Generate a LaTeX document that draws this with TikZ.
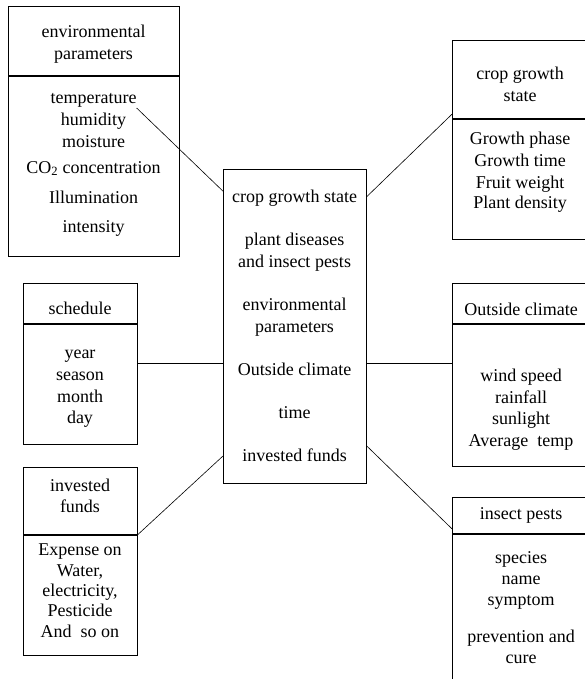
\documentclass[tikz,border=0pt]{standalone}
\usepackage{fontspec}
\setmainfont{Liberation Serif}
\begin{document}
\begin{tikzpicture}[x=1pt,y=-1pt,
  box/.style={draw=black, line width=0.7pt, rectangle, inner sep=0pt, anchor=north west},
  lbl/.style={font=\fontsize{18}{21}\selectfont, inner sep=0pt, anchor=base},
  link/.style={draw=black, line width=0.6pt}]
\useasboundingbox (0,0) rectangle (585,679);

% environmental parameters
\node[box, minimum width=171pt, minimum height=69pt] (envH) at (8,6) {};
\node[box, minimum width=171pt, minimum height=180pt] (envB) at (envH.south west) {};
\node[lbl] (env1) at (93.5,38) {environmental};
\node[lbl] (env2) at (93.5,60) {parameters};
\node[lbl] (envT) at (93.5,104) {temperature};
\node[lbl] (env4) at (93.5,126) {humidity};
\node[lbl] (env5) at (93.5,148) {moisture};
\node[lbl] (env6) at (93.5,173) {CO\textsubscript{2} concentration};
\node[lbl] (env7) at (93.5,203) {Illumination};
\node[lbl] (env8) at (93.5,232) {intensity};

% schedule
\node[box, minimum width=114pt, minimum height=40pt] (schH) at (23,283) {};
\node[box, minimum width=114pt, minimum height=120pt] (schB) at (schH.south west) {};
\node[lbl] (sch1) at (80,314) {schedule};
\node[lbl] (sch2) at (80,358) {year};
\node[lbl] (sch3) at (80,380) {season};
\node[lbl] (sch4) at (80,402) {month};
\node[lbl] (sch5) at (80,423) {day};

% invested funds
\node[box, minimum width=114pt, minimum height=67pt] (fundH) at (23,467) {};
\node[box, minimum width=114pt, minimum height=120pt] (fundB) at (fundH.south west) {};
\node[lbl] (fund1) at (80,491) {invested};
\node[lbl] (fund2) at (80,512) {funds};
\node[lbl] (fund3) at (80,555) {Expense on};
\node[lbl] (fund4) at (80,576) {Water,};
\node[lbl] (fund5) at (80,596) {electricity,};
\node[lbl] (fund6) at (80,616) {Pesticide};
\node[lbl] (fund7) at (80,637) {And\hspace{0.5em}so on};

% centre
\node[box, minimum width=143pt, minimum height=314pt] (center) at (223,169) {};
\node[lbl] (c1) at (294.5,202) {crop growth state};
\node[lbl] (c2) at (294.5,245) {plant diseases};
\node[lbl] (c3) at (294.5,267) {and insect pests};
\node[lbl] (c4) at (294.5,310) {environmental};
\node[lbl] (c5) at (294.5,332) {parameters};
\node[lbl] (c6) at (294.5,375) {Outside climate};
\node[lbl] (c7) at (294.5,418) {time};
\node[lbl] (c8) at (294.5,461) {invested funds};

% crop growth state
\node[box, minimum width=136pt, minimum height=78pt] (cropH) at (452,40) {};
\node[box, minimum width=136pt, minimum height=120pt] (cropB) at (cropH.south west) {};
\node[lbl] (crop1) at (520,80) {crop growth};
\node[lbl] (crop2) at (520,102) {state};
\node[lbl] (crop3) at (520,145) {Growth phase};
\node[lbl] (crop4) at (520,167) {Growth time};
\node[lbl] (crop5) at (520,188) {Fruit weight};
\node[lbl] (crop6) at (520,208) {Plant density};

% outside climate
\node[box, minimum width=138pt, minimum height=40pt] (outH) at (452,283) {};
\node[box, minimum width=138pt, minimum height=142pt] (outB) at (outH.south west) {};
\node[lbl] (out1) at (521,315) {Outside climate};
\node[lbl] (out2) at (521,381) {wind speed};
\node[lbl] (out3) at (521,403) {rainfall};
\node[lbl] (out4) at (521,424) {sunlight};
\node[lbl] (out5) at (521,446) {Average\hspace{0.5em}temp};

% insect pests
\node[box, minimum width=138pt, minimum height=36pt] (pestH) at (452,497) {};
\node[box, minimum width=138pt, minimum height=170pt] (pestB) at (pestH.south west) {};
\node[lbl] (pest1) at (521,519) {insect pests};
\node[lbl] (pest2) at (521,563) {species};
\node[lbl] (pest3) at (521,584) {name};
\node[lbl] (pest4) at (521,605) {symptom};
\node[lbl] (pest5) at (521,642) {prevention and};
\node[lbl] (pest6) at (521,663) {cure};

% connectors
\draw[link] (envT.south east) -- (center.118);
\draw[link] (center.61) -- (cropH.207);
\draw[link] (center.207) -- (center.207 -| schB.east);
\draw[link] (center.333) -- (center.333 -| outB.west);
\draw[link] (fundH.south east) -- (center.241);
\draw[link] (center.301) -- (pestH.191);
\end{tikzpicture}
\end{document}
